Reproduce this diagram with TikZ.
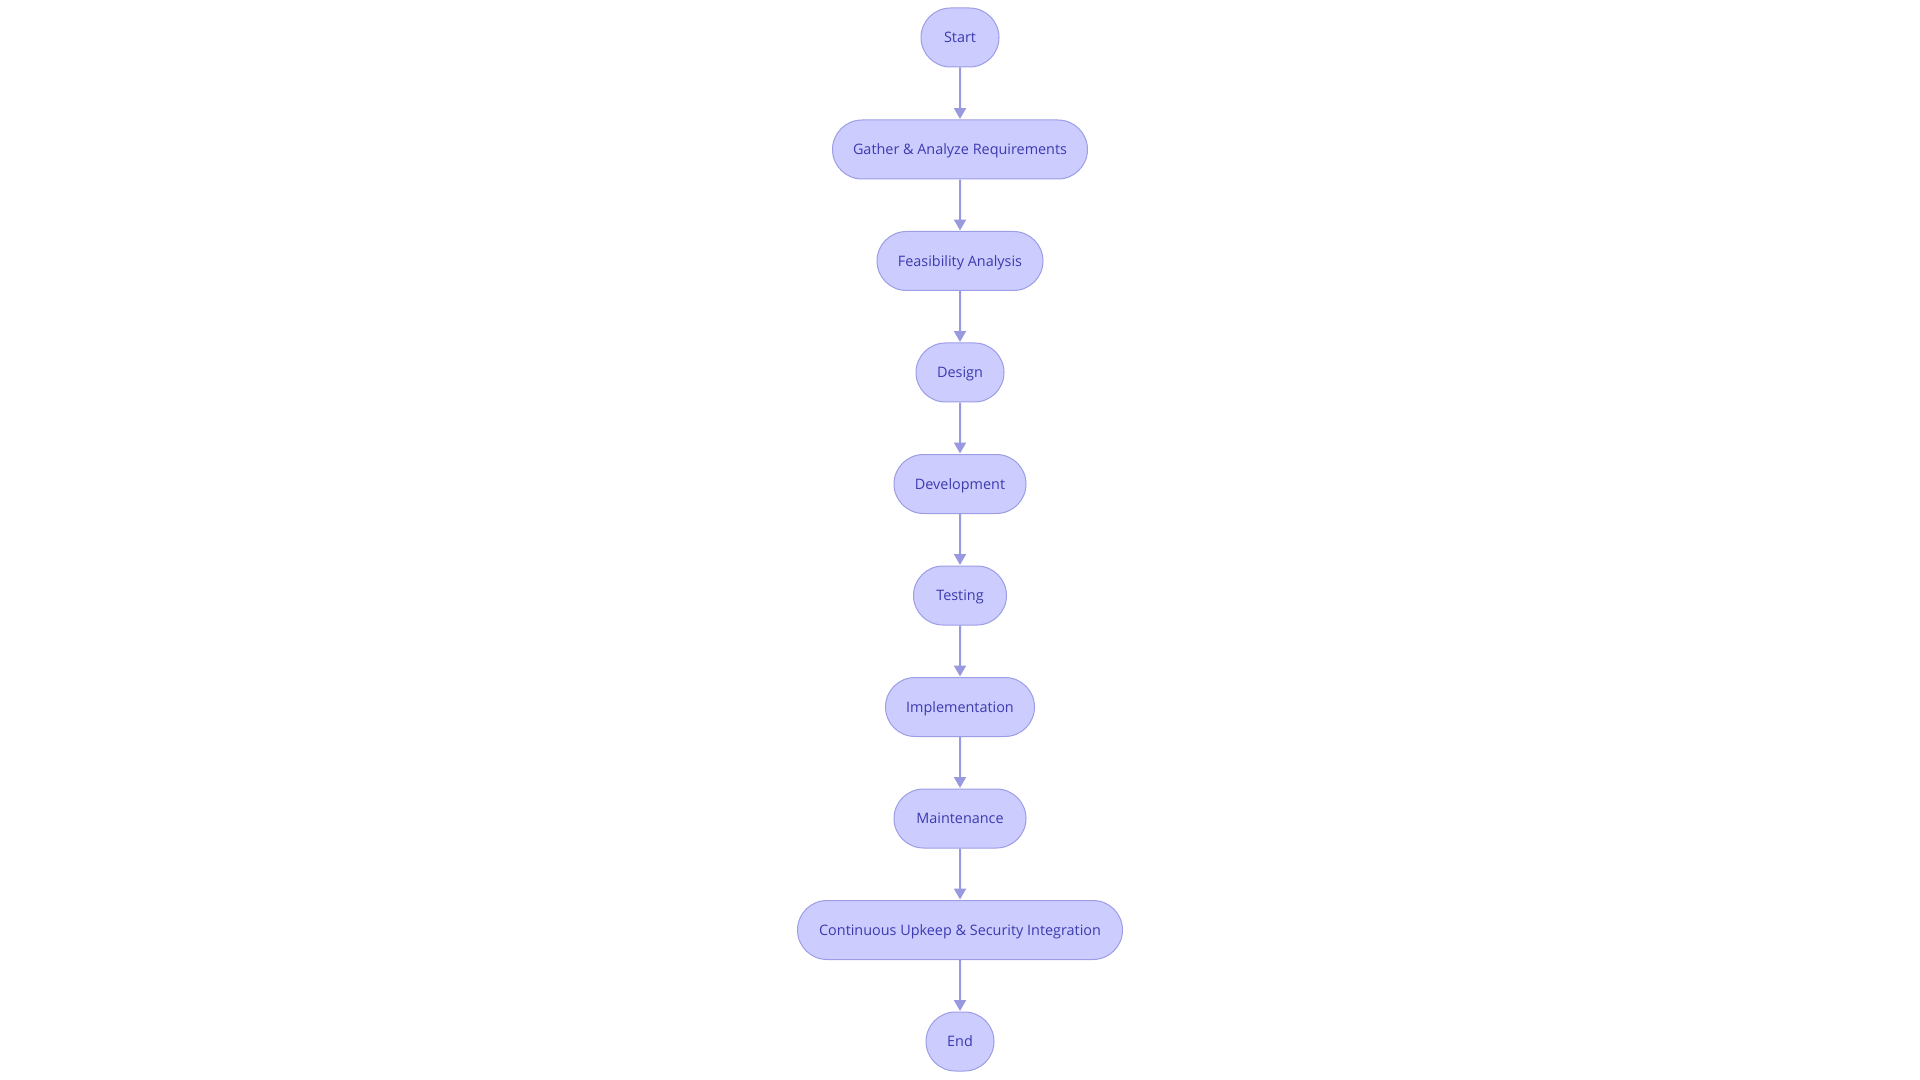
\documentclass[tikz,border=0pt]{standalone}
\usepackage{fontspec}
\setmainfont{Open Sans}
\usetikzlibrary{shapes.misc,arrows.meta}
\definecolor{nodefill}{HTML}{CCCCFF}
\definecolor{nodeline}{HTML}{9D9DE6}
\definecolor{edgeline}{HTML}{9999E0}
\definecolor{nodetext}{HTML}{3B3BAF}
\tikzset{
  stage/.style={rounded rectangle, draw=nodeline, fill=nodefill, line width=0.75pt,
    minimum height=44.25pt, inner sep=0pt, text=nodetext,
    font=\fontsize{10.8pt}{12pt}\selectfont, text height=7.7pt, text depth=0pt},
  flow/.style={draw=edgeline, line width=1.5pt, -{Triangle[length=8.2pt,width=9pt]}, shorten >=0.4pt}
}
\begin{document}
\begin{tikzpicture}[x=0.75pt,y=-0.75pt]
\useasboundingbox (0,0) rectangle (1920,1080);
\node[stage, minimum width=58.5pt] (n1) at (960,37.5) {Start};
\node[stage, minimum width=191.25pt] (n2) at (960,149.5) {Gather \& Analyze Requirements};
\node[stage, minimum width=124.5pt] (n3) at (960,261) {Feasibility Analysis};
\node[stage, minimum width=66pt] (n4) at (960,372.5) {Design};
\node[stage, minimum width=99pt] (n5) at (960,484) {Development};
\node[stage, minimum width=69.75pt] (n6) at (960,595.5) {Testing};
\node[stage, minimum width=111.75pt] (n7) at (960,707) {Implementation};
\node[stage, minimum width=99pt] (n8) at (960,818.5) {Maintenance};
\node[stage, minimum width=243.75pt] (n9) at (960,930) {Continuous Upkeep \& Security Integration};
\node[stage, minimum width=51pt] (n10) at (960,1041.5) {End};
\foreach \a/\b in {n1/n2,n2/n3,n3/n4,n4/n5,n5/n6,n6/n7,n7/n8,n8/n9,n9/n10}
  \draw[flow] (\a) -- (\b);
\end{tikzpicture}
\end{document}
